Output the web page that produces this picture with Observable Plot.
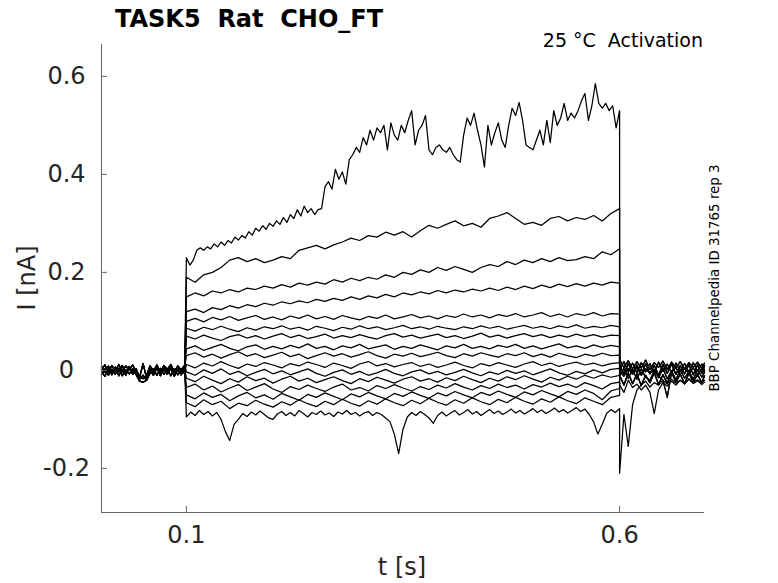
<!DOCTYPE html>
<html><head><meta charset="utf-8">
<script src="https://cdn.jsdelivr.net/npm/d3@7"></script>
<script src="https://cdn.jsdelivr.net/npm/@observablehq/plot@0.6"></script>
<style>body{margin:0;background:#fff}#chart{width:778px;height:583px}</style>
</head><body><div id="chart"></div>
<script>
const titleText = "TASK5  Rat  CHO_FT";
const subtitleText = "25 °C  Activation";
const sideText = "BBP Channelpedia ID 31765 rep 3";
const xLabel = "t [s]";
const yLabel = "I [nA]";
const xDomain = [0.002, 0.698];
const yDomain = [-0.29, 0.665];
const xTicks = [0.1, 0.6];
const yTicks = [-0.2, 0, 0.2, 0.4, 0.6];

// sampling of the recording segments (s)
const preStart = 0.002, preDt = 0.004;
const stepStart = 0.1;
const postT = [0.600,0.605,0.610,0.615,0.620,0.625,0.630,0.635,0.640,0.645,0.650,0.655,0.660,0.665,0.670,0.675,0.680,0.685,0.690,0.695,0.698];

// holding-period baselines (nA)
const preA = [0.008,-0.004,0.009,-0.006,0.007,-0.003,0.01,-0.005,0.008,-0.004,0.003,-0.014,0.014,-0.016,0.006,-0.005,0.009,-0.006,0.008,-0.003,0.01,-0.005,0.007,-0.006,0.008];
const preB = [-0.009,0.003,-0.01,0.002,-0.008,0.004,-0.011,0.001,-0.007,0.003,-0.009,-0.022,-0.024,-0.02,-0.006,0.003,-0.01,0.004,-0.008,0.002,-0.011,0.003,-0.009,0.002,-0.007];
const preC = [0.002,0.011,-0.004,0.01,-0.002,0.012,-0.003,0.009,0.001,0.011,-0.003,-0.012,-0.017,-0.01,0.009,-0.001,0.011,-0.004,0.01,0.002,0.012,-0.003,0.009,0.001,0.011];
const preD = [-0.003,-0.012,0.004,-0.009,0.005,-0.011,0.002,-0.01,0.006,-0.008,0.001,-0.018,-0.01,-0.02,0.0,-0.01,0.005,-0.011,0.003,-0.008,0.004,-0.012,0.002,-0.009,0.003];

// post-step (tail) currents (nA)
const post0 = [-0.21,-0.09,-0.155,-0.07,-0.04,-0.03,-0.022,-0.034,-0.025,-0.03,-0.02,-0.028,-0.018,-0.026,-0.02,-0.027,-0.017,-0.024,-0.019,-0.026,-0.02];
const post1 = [-0.03,-0.045,-0.02,-0.035,-0.028,-0.04,-0.03,-0.045,-0.088,-0.04,-0.025,-0.032,-0.022,-0.03,-0.02,-0.028,-0.018,-0.027,-0.021,-0.029,-0.024];
const post2 = [0.0,-0.012,0.004,-0.008,0.006,-0.01,0.003,-0.006,0.002,-0.012,-0.02,-0.055,-0.004,0.005,-0.008,0.004,-0.006,0.005,-0.009,0.003,-0.005];
const post3 = [0.022,0.006,0.02,0.003,0.018,0.005,0.021,0.002,0.016,0.006,0.019,0.002,0.017,0.005,0.018,0.003,0.016,0.006,0.017,0.004,0.015];
const post4 = [0.012,-0.008,0.014,-0.006,0.011,-0.009,0.013,-0.007,0.01,-0.01,0.012,-0.006,0.013,-0.008,0.01,-0.007,0.012,-0.009,0.011,-0.006,0.01];
const post5 = [-0.01,-0.03,-0.006,-0.027,-0.008,-0.031,-0.01,-0.025,-0.005,-0.029,-0.009,-0.026,-0.004,-0.024,-0.008,-0.027,-0.006,-0.023,-0.009,-0.025,-0.011];
const post6 = [0.0,0.018,-0.004,0.015,-0.006,0.016,-0.003,0.014,-0.007,0.017,-0.002,0.013,-0.005,0.015,-0.001,0.014,-0.004,0.016,-0.002,0.013,0.0];
const post7 = [-0.012,0.004,-0.016,0.002,-0.018,0.003,-0.014,-0.02,0.0,-0.015,0.004,-0.017,-0.001,-0.019,0.002,-0.016,-0.002,-0.018,0.001,-0.014,-0.003];

// currents during the 0.1–0.6 s voltage step (nA)
const trace01 = [0.23,0.215,0.225,0.245,0.25,0.245,0.252,0.248,0.258,0.252,
0.262,0.255,0.265,0.26,0.272,0.266,0.275,0.27,0.283,0.276,
0.29,0.284,0.295,0.288,0.3,0.294,0.305,0.298,0.312,0.302,
0.318,0.31,0.328,0.315,0.335,0.322,0.33,0.318,0.328,0.33,
0.375,0.385,0.37,0.41,0.39,0.405,0.38,0.43,0.44,0.455,
0.445,0.475,0.46,0.49,0.47,0.495,0.485,0.5,0.45,0.505,
0.48,0.47,0.5,0.485,0.51,0.53,0.46,0.49,0.5,0.52,
0.45,0.44,0.455,0.46,0.45,0.445,0.455,0.44,0.43,0.425,
0.48,0.515,0.5,0.525,0.49,0.46,0.415,0.5,0.46,0.485,
0.505,0.47,0.455,0.5,0.535,0.52,0.547,0.51,0.46,0.455,
0.45,0.47,0.49,0.46,0.51,0.465,0.53,0.5,0.515,0.545,
0.51,0.525,0.515,0.53,0.55,0.565,0.51,0.54,0.585,0.545,
0.535,0.545,0.53,0.54,0.495,0.53];
const trace02 = [0.19,0.18,0.195,0.2,0.21,0.225,0.23,0.222,0.228,0.22,0.225,0.232,0.228,0.245,0.25,0.255,0.248,0.256,0.262,0.27,0.265,0.275,0.272,0.282,0.276,0.283,0.272,0.285,0.296,0.29,0.298,0.305,0.295,0.3,0.292,0.31,0.315,0.322,0.31,0.298,0.302,0.296,0.31,0.314,0.305,0.312,0.308,0.316,0.305,0.32,0.33];
const trace03 = [0.150,0.158,0.152,0.162,0.158,0.165,0.16,0.168,0.165,0.172,0.168,0.175,0.17,0.178,0.174,0.18,0.176,0.185,0.18,0.188,0.183,0.19,0.186,0.195,0.19,0.2,0.196,0.205,0.2,0.21,0.204,0.212,0.206,0.2,0.21,0.216,0.212,0.222,0.216,0.225,0.22,0.228,0.222,0.23,0.224,0.226,0.232,0.228,0.242,0.236,0.248];
const trace04 = [0.12,0.125,0.118,0.128,0.124,0.132,0.127,0.134,0.13,0.137,0.133,0.14,0.136,0.142,0.138,0.145,0.141,0.147,0.143,0.15,0.145,0.152,0.148,0.155,0.15,0.158,0.154,0.16,0.156,0.163,0.158,0.164,0.16,0.166,0.162,0.168,0.163,0.17,0.165,0.172,0.167,0.174,0.169,0.176,0.171,0.177,0.172,0.178,0.174,0.18,0.178];
const trace05 = [0.100,0.106,0.099,0.108,0.103,0.11,0.102,0.107,0.112,0.104,0.109,0.103,0.111,0.106,0.113,0.105,0.11,0.104,0.112,0.107,0.103,0.11,0.106,0.113,0.105,0.109,0.114,0.107,0.111,0.105,0.112,0.108,0.115,0.109,0.113,0.107,0.114,0.11,0.116,0.109,0.113,0.118,0.11,0.115,0.109,0.116,0.112,0.118,0.111,0.116,0.115];
const trace06 = [0.086,0.08,0.088,0.083,0.09,0.084,0.079,0.087,0.082,0.089,0.085,0.091,0.084,0.088,0.082,0.09,0.086,0.081,0.088,0.084,0.091,0.085,0.089,0.083,0.087,0.092,0.085,0.089,0.084,0.09,0.086,0.083,0.089,0.085,0.091,0.086,0.09,0.084,0.088,0.092,0.086,0.09,0.085,0.091,0.087,0.093,0.086,0.09,0.087,0.092,0.089];
const trace07 = [0.07,0.064,0.072,0.066,0.061,0.069,0.073,0.066,0.071,0.064,0.07,0.075,0.067,0.072,0.065,0.069,0.074,0.066,0.071,0.067,0.073,0.068,0.064,0.071,0.075,0.068,0.072,0.066,0.07,0.074,0.067,0.071,0.065,0.07,0.076,0.068,0.072,0.066,0.071,0.075,0.069,0.073,0.067,0.072,0.068,0.074,0.069,0.073,0.068,0.072,0.071];
const trace08 = [0.044,0.05,0.041,0.047,0.053,0.045,0.04,0.048,0.052,0.043,0.049,0.044,0.051,0.046,0.054,0.045,0.049,0.042,0.05,0.046,0.053,0.044,0.048,0.052,0.043,0.049,0.045,0.052,0.047,0.042,0.05,0.046,0.053,0.045,0.049,0.044,0.051,0.047,0.053,0.045,0.05,0.044,0.049,0.054,0.046,0.05,0.045,0.052,0.047,0.051,0.048];
const trace09 = [0.03,0.036,0.027,0.033,0.025,0.032,0.038,0.029,0.034,0.026,0.031,0.037,0.028,0.033,0.024,0.03,0.036,0.029,0.034,0.027,0.032,0.038,0.03,0.025,0.033,0.029,0.035,0.028,0.032,0.037,0.03,0.026,0.034,0.029,0.036,0.031,0.027,0.034,0.03,0.036,0.028,0.033,0.027,0.035,0.03,0.026,0.033,0.029,0.035,0.03,0.031];
const trace10 = [0.012,0.005,0.015,0.009,0.018,0.01,0.004,0.013,0.008,0.016,0.011,0.005,0.014,0.009,0.017,0.012,0.006,0.015,0.01,0.004,0.013,0.018,0.009,0.014,0.007,0.012,0.016,0.008,0.013,0.006,0.011,0.017,0.01,0.005,0.014,0.009,0.016,0.011,0.006,0.013,0.018,0.01,0.015,0.008,0.013,0.017,0.011,0.015,0.009,0.014,0.016];
const trace11 = [-0.003,-0.01,0.001,-0.006,0.003,-0.008,-0.002,-0.011,-0.004,0.002,-0.007,-0.001,-0.009,-0.003,0.003,-0.006,-0.012,-0.004,0.001,-0.008,-0.002,-0.01,-0.005,0.002,-0.006,-0.011,-0.003,0.001,-0.007,-0.002,-0.009,-0.004,0.002,-0.005,-0.011,-0.003,-0.008,0,-0.006,-0.001,-0.009,-0.003,0.003,-0.005,-0.01,-0.002,-0.007,0.001,-0.005,0.002,0.004];
const trace12 = [-0.016,-0.023,-0.012,-0.02,-0.027,-0.017,-0.024,-0.013,-0.021,-0.016,-0.026,-0.018,-0.012,-0.022,-0.016,-0.025,-0.019,-0.013,-0.021,-0.027,-0.017,-0.023,-0.014,-0.02,-0.026,-0.018,-0.013,-0.022,-0.017,-0.024,-0.015,-0.021,-0.012,-0.019,-0.025,-0.016,-0.022,-0.013,-0.019,-0.011,-0.018,-0.024,-0.014,-0.02,-0.012,-0.018,-0.01,-0.016,-0.009,-0.014,-0.01];
const trace13 = [-0.035,-0.028,-0.04,-0.032,-0.044,-0.036,-0.029,-0.041,-0.034,-0.027,-0.038,-0.045,-0.033,-0.039,-0.03,-0.037,-0.043,-0.034,-0.028,-0.04,-0.035,-0.042,-0.031,-0.037,-0.029,-0.036,-0.042,-0.033,-0.039,-0.03,-0.036,-0.027,-0.034,-0.04,-0.031,-0.037,-0.028,-0.035,-0.03,-0.038,-0.029,-0.034,-0.026,-0.033,-0.028,-0.035,-0.025,-0.031,-0.038,-0.027,-0.024];
const trace14 = [-0.05,-0.058,-0.046,-0.055,-0.049,-0.062,-0.052,-0.045,-0.056,-0.05,-0.059,-0.047,-0.054,-0.061,-0.049,-0.055,-0.046,-0.053,-0.06,-0.048,-0.054,-0.045,-0.052,-0.058,-0.047,-0.053,-0.044,-0.051,-0.057,-0.046,-0.052,-0.043,-0.05,-0.056,-0.045,-0.051,-0.042,-0.049,-0.055,-0.044,-0.05,-0.041,-0.048,-0.054,-0.043,-0.049,-0.04,-0.047,-0.06,-0.042,-0.037];
const trace15 = [-0.066,-0.074,-0.06,-0.07,-0.063,-0.078,-0.067,-0.072,-0.061,-0.069,-0.075,-0.064,-0.071,-0.06,-0.068,-0.074,-0.063,-0.07,-0.059,-0.067,-0.073,-0.062,-0.069,-0.058,-0.066,-0.072,-0.061,-0.068,-0.057,-0.065,-0.071,-0.06,-0.067,-0.056,-0.064,-0.07,-0.059,-0.066,-0.055,-0.063,-0.069,-0.058,-0.065,-0.054,-0.062,-0.068,-0.056,-0.063,-0.07,-0.055,-0.051];
const trace16 = [-0.095,-0.085,-0.092,-0.082,-0.09,-0.084,-0.093,-0.086,-0.1,-0.125,
-0.143,-0.11,-0.1,-0.088,-0.094,-0.085,-0.091,-0.083,-0.09,-0.097,
-0.1,-0.089,-0.084,-0.092,-0.086,-0.093,-0.082,-0.088,-0.095,-0.086,
-0.09,-0.083,-0.091,-0.087,-0.094,-0.085,-0.089,-0.082,-0.09,-0.086,
-0.093,-0.087,-0.084,-0.092,-0.086,-0.09,-0.097,-0.105,-0.13,-0.17,
-0.12,-0.095,-0.086,-0.092,-0.084,-0.09,-0.097,-0.108,-0.092,-0.085,
-0.093,-0.087,-0.082,-0.091,-0.086,-0.08,-0.089,-0.084,-0.092,-0.086,
-0.08,-0.088,-0.083,-0.09,-0.085,-0.079,-0.087,-0.082,-0.089,-0.084,
-0.078,-0.086,-0.081,-0.088,-0.083,-0.077,-0.085,-0.08,-0.087,-0.082,
-0.076,-0.084,-0.079,-0.09,-0.105,-0.13,-0.11,-0.088,-0.08,-0.086,
-0.078];

const stepTraces = [trace01,trace02,trace03,trace04,trace05,trace06,trace07,trace08,trace09,trace10,trace11,trace12,trace13,trace14,trace15,trace16];
const stepDt = [0.004,0.01,0.01,0.01,0.01,0.01,0.01,0.01,0.01,0.01,0.01,0.01,0.01,0.01,0.01,0.005];
const preSeries = [preA, preB, preC, preD];
const postSeries = [post0, post1, post2, post3, post4, post5, post6, post7];
const preOf = [0,1,2,3,0,1,2,3,0,1,2,3,0,1,2,3];
const postOf = [3,6,4,2,7,5,3,6,4,2,7,5,1,4,5,0];

const rows = [];
stepTraces.forEach((vals, k) => {
  preSeries[preOf[k]].forEach((v, i) => rows.push({trace: k, t: preStart + i * preDt, I: v}));
  vals.forEach((v, i) => rows.push({trace: k, t: stepStart + i * stepDt[k], I: v}));
  postSeries[postOf[k]].forEach((v, i) => rows.push({trace: k, t: postT[i], I: v}));
});

const axisColor = "#666";
const textColor = "#262626";

const chart = Plot.plot({
  width: 778, height: 583,
  marginLeft: 101, marginRight: 74, marginTop: 44, marginBottom: 71,
  style: {fontFamily: "DejaVu Sans", fontSize: "24px", color: textColor, background: "#fff", overflow: "visible"},
  x: {domain: xDomain},
  y: {domain: yDomain},
  marks: [
    Plot.line(rows, {x: "t", y: "I", z: "trace", stroke: "#000", strokeWidth: 1.25}),
    Plot.ruleX([xDomain[0]], {stroke: axisColor}),
    Plot.ruleY([yDomain[0]], {stroke: axisColor}),
    Plot.axisX({ticks: xTicks, tickSize: -6, tickPadding: 19, tickFormat: d => String(d), label: null, stroke: axisColor, fill: textColor}),
    Plot.axisY({ticks: yTicks, tickSize: -6, tickPadding: 41, textAnchor: "middle", tickFormat: d => String(d), label: null, stroke: axisColor, fill: textColor})
  ]
});
document.getElementById("chart").appendChild(chart);

const svg = d3.select(chart);
svg.append("text").attr("x", 115).attr("y", 27).attr("font-size", 24).attr("font-weight", "bold")
  .attr("text-anchor", "start").attr("fill", "#000").attr("xml:space", "preserve").style("white-space", "pre").text(titleText);
svg.append("text").attr("x", 703).attr("y", 47).attr("font-size", 19).attr("text-anchor", "end")
  .attr("fill", "#000").attr("xml:space", "preserve").style("white-space", "pre").text(subtitleText);
svg.append("text").attr("transform", "translate(719,278) rotate(-90)").attr("font-size", 13.4)
  .attr("text-anchor", "middle").attr("fill", "#000").text(sideText);
svg.append("text").attr("x", 402).attr("y", 575).attr("font-size", 24).attr("text-anchor", "middle")
  .attr("fill", textColor).text(xLabel);
svg.append("text").attr("transform", "translate(35,278) rotate(-90)").attr("font-size", 24)
  .attr("text-anchor", "middle").attr("fill", textColor).text(yLabel);
</script></body></html>
